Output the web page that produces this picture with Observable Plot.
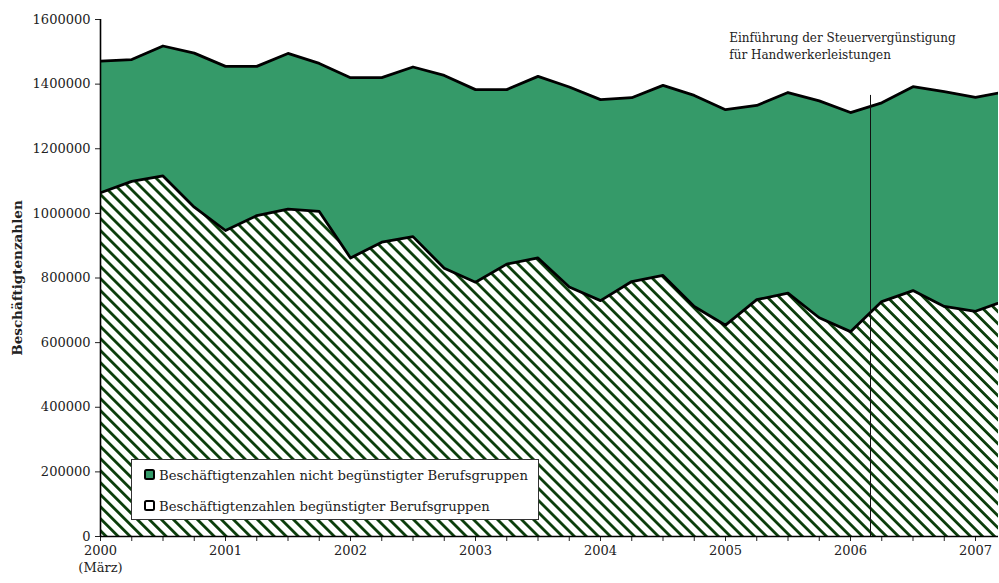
<!DOCTYPE html>
<html>
<head>
<meta charset="utf-8">
<script src="https://cdn.jsdelivr.net/npm/d3@7"></script>
<script src="https://cdn.jsdelivr.net/npm/@observablehq/plot@0.6"></script>
<style>
  html, body { margin: 0; padding: 0; background: #fff; }
  #chart { width: 999px; height: 583px; }
</style>
</head>
<body>
<div id="chart"></div>
<script>
// Quarterly observations (first = März 2000)
const quarters = [
  2000, 2000.25, 2000.5, 2000.75,
  2001, 2001.25, 2001.5, 2001.75,
  2002, 2002.25, 2002.5, 2002.75,
  2003, 2003.25, 2003.5, 2003.75,
  2004, 2004.25, 2004.5, 2004.75,
  2005, 2005.25, 2005.5, 2005.75,
  2006, 2006.25, 2006.5, 2006.75,
  2007, 2007.25
];
// Total employment (top edge of green area)
const gesamt = [
  1471000, 1476000, 1518000, 1496000,
  1455000, 1455000, 1495000, 1464000,
  1420000, 1420000, 1453000, 1427000,
  1383000, 1383000, 1424000, 1391000,
  1352000, 1358000, 1396000, 1365000,
  1321000, 1334000, 1374000, 1348000,
  1312000, 1342000, 1392000, 1377000,
  1359000, 1377000
];
// Employment of favoured occupational groups (hatched area)
const beguenstigt = [
  1064000, 1099000, 1116000, 1019000,
  947000, 993000, 1013000, 1006000,
  862000, 911000, 928000, 830000,
  787000, 843000, 862000, 772000,
  730000, 789000, 808000, 712000,
  654000, 733000, 753000, 677000,
  634000, 727000, 761000, 712000,
  697000, 732000
];
const yTicks = [0, 200000, 400000, 600000, 800000, 1000000, 1200000, 1400000, 1600000];
const xTicks = [
  2000, 2000.25, 2000.5, 2000.75, 2001, 2001.25, 2001.5, 2001.75,
  2002, 2002.25, 2002.5, 2002.75, 2003, 2003.25, 2003.5, 2003.75,
  2004, 2004.25, 2004.5, 2004.75, 2005, 2005.25, 2005.5, 2005.75,
  2006, 2006.25, 2006.5, 2006.75, 2007
];
const einfuehrung = 2006.16;
const einfuehrungTop = 1365000;
const seriesNames = [
  "Beschäftigtenzahlen nicht begünstigter Berufsgruppen",
  "Beschäftigtenzahlen begünstigter Berufsgruppen"
];
const annotation = "Einführung der Steuervergünstigung\nfür Handwerkerleistungen";
const green = "#359a69";
const hatchDark = "#0b3d0b";

const data = quarters.map((q, i) => ({ q, total: gesamt[i], fav: beguenstigt[i] }));

const textColor = "#222";
const chart = Plot.plot({
  width: 999,
  height: 583,
  marginLeft: 100,
  marginRight: 1,
  marginTop: 19,
  marginBottom: 47,
  style: { fontFamily: "'DejaVu Serif', serif", fontSize: "12px", color: textColor, background: "#fff" },
  x: { domain: [2000, 2007.184] },
  y: { domain: [0, 1600000] },
  marks: [
    Plot.areaY(data, { x: "q", y1: 0, y2: "total", fill: green, clip: true }),
    Plot.areaY(data, { x: "q", y1: 0, y2: "fav", fill: "url(#hatch)", clip: true }),
    Plot.lineY(data, { x: "q", y: "total", stroke: "#000", strokeWidth: 2.8, clip: true }),
    Plot.lineY(data, { x: "q", y: "fav", stroke: "#000", strokeWidth: 2.8, clip: true }),
    Plot.ruleX([einfuehrung], { y1: 0, y2: einfuehrungTop, stroke: "#111", strokeWidth: 1 }),
    Plot.axisY({ ticks: yTicks, tickFormat: d3.format("d"), tickSize: 5, tickPadding: 5, label: null, fill: textColor, fontSize: 13 }),
    Plot.axisX({ ticks: xTicks, tickFormat: d => Number.isInteger(d) ? String(d) : "", tickSize: 5, tickPadding: 4, label: null, fill: textColor, fontSize: 13 }),
    Plot.text(["(März)"], { x: 2000, y: 0, dy: 31, fill: textColor, fontSize: 13 }),
    Plot.text([annotation], { x: 2005.03, y: 1600000, dy: 11, textAnchor: "start", lineAnchor: "top", lineHeight: 1.4, fill: textColor, fontSize: 12 }),
    Plot.text(["Beschäftigtenzahlen"], { frameAnchor: "left", dx: -83, rotate: -90, textAnchor: "middle", fontWeight: "bold", fill: textColor, fontSize: 13.5 }),
    Plot.ruleY([0], { stroke: "#000", strokeWidth: 1.6 }),
    Plot.ruleX([2000], { stroke: "#000", strokeWidth: 1.6 })
  ]
});

// Hatch pattern definition
const svg = d3.select(chart);
const defs = svg.insert("defs", ":first-child");
const pat = defs.append("pattern")
  .attr("id", "hatch")
  .attr("patternUnits", "userSpaceOnUse")
  .attr("width", 8.49)
  .attr("height", 8.49)
  .attr("patternTransform", "rotate(-45)");
pat.append("rect").attr("width", 8.49).attr("height", 8.49).attr("fill", "#fff");
pat.append("rect").attr("x", 0).attr("width", 2.8).attr("height", 8.49).attr("fill", hatchDark);

// Legend (inside the plot frame)
const lg = svg.append("g")
  .attr("font-family", "'DejaVu Serif', serif")
  .attr("font-size", 13.2)
  .attr("text-anchor", "start")
  .attr("fill", textColor);
lg.append("rect").attr("x", 131.5).attr("y", 459.5).attr("width", 407).attr("height", 60)
  .attr("fill", "#fff").attr("stroke", "#333").attr("stroke-width", 1);
const swFills = [green, "#fff"];
const swY = [470, 501];
seriesNames.forEach((name, i) => {
  lg.append("rect").attr("x", 145).attr("y", swY[i]).attr("width", 9).attr("height", 9)
    .attr("rx", 1.5).attr("fill", swFills[i]).attr("stroke", "#000").attr("stroke-width", 2);
  lg.append("text").attr("x", 159).attr("y", swY[i] + 9.5).attr("text-anchor", "start").text(name);
});

document.getElementById("chart").appendChild(chart);
</script>
</body>
</html>
